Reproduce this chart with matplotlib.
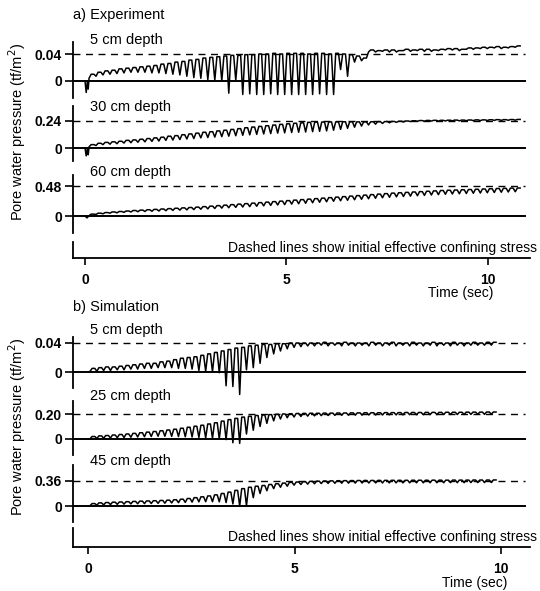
import matplotlib
matplotlib.use("Agg")
import matplotlib.pyplot as plt

plt.rcParams['font.family'] = ['Liberation Sans', 'DejaVu Sans']

# ---------------- data ----------------
# each trace: one peak and one trough per loading cycle, plus the start transient
exp_t_start, exp_t_end = 0.1, 10.85
sim_t_start, sim_t_end = 0.05, 9.93

exp5_lead_t = [0.0, 0.03, 0.06, 0.08]
exp5_lead_v = [0.0, -0.017, 0.0, -0.012]
exp5_peaks = [0.010, 0.013, 0.015, 0.016, 0.018, 0.019, 0.020, 0.021, 0.022, 0.023,
              0.025, 0.026, 0.028, 0.029, 0.031, 0.032, 0.034, 0.035, 0.036, 0.037,
              0.038, 0.038, 0.039, 0.039, 0.040, 0.040, 0.041, 0.040, 0.041, 0.041,
              0.041, 0.040, 0.041, 0.041, 0.040, 0.041, 0.040, 0.039, 0.037, 0.034,
              0.046, 0.045, 0.046, 0.046, 0.045, 0.047, 0.046, 0.047, 0.047, 0.046,
              0.047, 0.048, 0.048, 0.047, 0.049, 0.049, 0.050, 0.050, 0.051, 0.050, 0.051, 0.052]
exp5_troughs = [0.004, 0.007, 0.009, 0.010, 0.011, 0.012, 0.013, 0.013, 0.013, 0.012,
                0.012, 0.011, 0.010, 0.009, 0.007, 0.005, 0.004, 0.002, 0.001, 0.000,
                -0.018, 0.001, -0.020, -0.019, -0.020, -0.020, -0.019, -0.020, -0.020, -0.020,
                -0.020, -0.020, -0.020, -0.019, -0.020, -0.020, 0.017, 0.007, 0.028, 0.030,
                0.043, 0.043, 0.044, 0.043, 0.043, 0.045, 0.044, 0.045, 0.044, 0.044,
                0.045, 0.046, 0.046, 0.045, 0.047, 0.047, 0.048, 0.048, 0.049, 0.048, 0.049, 0.050]

exp30_lead_t = [0.0, 0.03, 0.06, 0.08]
exp30_lead_v = [0.0, -0.07, 0.0, -0.06]
exp30_peaks = [0.030, 0.042, 0.050, 0.055, 0.060, 0.068, 0.072, 0.078, 0.084, 0.090,
               0.096, 0.105, 0.110, 0.118, 0.125, 0.132, 0.140, 0.145, 0.152, 0.158,
               0.165, 0.172, 0.180, 0.186, 0.192, 0.198, 0.204, 0.210, 0.215, 0.220,
               0.224, 0.228, 0.230, 0.231, 0.232, 0.232, 0.233, 0.233, 0.232, 0.232,
               0.233, 0.234, 0.235, 0.236, 0.238, 0.240, 0.242, 0.244, 0.245, 0.246,
               0.246, 0.247, 0.248, 0.248, 0.249, 0.250, 0.250, 0.251, 0.252, 0.252, 0.253, 0.254]
exp30_troughs = [0.010, 0.022, 0.030, 0.034, 0.038, 0.044, 0.047, 0.051, 0.055, 0.059,
                 0.062, 0.068, 0.071, 0.075, 0.080, 0.084, 0.090, 0.093, 0.097, 0.101,
                 0.105, 0.109, 0.113, 0.117, 0.121, 0.125, 0.128, 0.132, 0.135, 0.138,
                 0.140, 0.142, 0.145, 0.148, 0.152, 0.158, 0.166, 0.175, 0.185, 0.195,
                 0.205, 0.212, 0.218, 0.224, 0.228, 0.232, 0.235, 0.237, 0.238, 0.239,
                 0.239, 0.240, 0.241, 0.241, 0.242, 0.243, 0.243, 0.244, 0.245, 0.245, 0.246, 0.247]

exp60_lead_t = [0.0, 0.05]
exp60_lead_v = [0.0, -0.03]
exp60_peaks = [0.030, 0.045, 0.055, 0.065, 0.072, 0.080, 0.088, 0.094, 0.100, 0.106,
               0.112, 0.118, 0.124, 0.130, 0.136, 0.142, 0.150, 0.158, 0.166, 0.174,
               0.182, 0.190, 0.198, 0.206, 0.214, 0.222, 0.230, 0.238, 0.246, 0.254,
               0.262, 0.270, 0.278, 0.286, 0.294, 0.302, 0.310, 0.318, 0.326, 0.334,
               0.342, 0.350, 0.358, 0.366, 0.372, 0.378, 0.384, 0.390, 0.396, 0.402,
               0.408, 0.412, 0.416, 0.420, 0.424, 0.428, 0.432, 0.436, 0.440, 0.443, 0.446, 0.448]
exp60_troughs = [0.005, 0.025, 0.035, 0.045, 0.050, 0.058, 0.064, 0.068, 0.072, 0.076,
                 0.080, 0.085, 0.090, 0.094, 0.098, 0.102, 0.108, 0.114, 0.120, 0.126,
                 0.132, 0.138, 0.144, 0.150, 0.156, 0.162, 0.170, 0.176, 0.182, 0.190,
                 0.196, 0.204, 0.212, 0.220, 0.228, 0.236, 0.244, 0.252, 0.260, 0.268,
                 0.276, 0.284, 0.292, 0.300, 0.306, 0.312, 0.318, 0.324, 0.330, 0.336,
                 0.342, 0.348, 0.352, 0.356, 0.360, 0.364, 0.368, 0.372, 0.376, 0.380, 0.384, 0.388]

sim5_lead_t = [0.0]
sim5_lead_v = [0.0]
sim5_peaks = [0.005, 0.006, 0.007, 0.007, 0.008, 0.009, 0.010, 0.011, 0.012, 0.012,
              0.014, 0.015, 0.017, 0.019, 0.020, 0.021, 0.023, 0.025, 0.027, 0.029,
              0.031, 0.033, 0.034, 0.036, 0.037, 0.038, 0.038, 0.039, 0.039, 0.040,
              0.040, 0.040, 0.040, 0.040, 0.041, 0.040, 0.040, 0.041, 0.040, 0.040,
              0.040, 0.041, 0.040, 0.040, 0.041, 0.040, 0.040, 0.041, 0.040, 0.040,
              0.041, 0.040, 0.040, 0.041, 0.040, 0.040, 0.041, 0.040, 0.041, 0.041]
sim5_troughs = [0.001, 0.001, 0.002, 0.002, 0.003, 0.003, 0.004, 0.004, 0.005, 0.005,
                0.006, 0.006, 0.006, 0.005, 0.005, 0.004, 0.002, 0.001, 0.000, -0.001,
                -0.019, -0.020, -0.031, 0.003, 0.006, 0.012, 0.020, 0.025, 0.029, 0.032,
                0.034, 0.035, 0.036, 0.036, 0.037, 0.036, 0.037, 0.036, 0.037, 0.036,
                0.037, 0.036, 0.037, 0.036, 0.037, 0.036, 0.037, 0.036, 0.037, 0.036,
                0.037, 0.036, 0.037, 0.036, 0.037, 0.036, 0.037, 0.037, 0.037, 0.037]

sim25_lead_t = [0.0]
sim25_lead_v = [0.0]
sim25_peaks = [0.020, 0.025, 0.028, 0.032, 0.036, 0.040, 0.045, 0.050, 0.055, 0.060,
               0.066, 0.072, 0.078, 0.086, 0.094, 0.102, 0.110, 0.120, 0.130, 0.143,
               0.155, 0.165, 0.175, 0.182, 0.188, 0.192, 0.195, 0.198, 0.200, 0.202,
               0.204, 0.205, 0.206, 0.206, 0.207, 0.207, 0.208, 0.208, 0.209, 0.209,
               0.210, 0.210, 0.210, 0.211, 0.211, 0.211, 0.212, 0.212, 0.212, 0.213,
               0.213, 0.213, 0.214, 0.214, 0.214, 0.215, 0.215, 0.215, 0.216, 0.216]
sim25_troughs = [0.002, 0.004, 0.006, 0.008, 0.010, 0.012, 0.014, 0.016, 0.018, 0.020,
                 0.022, 0.022, 0.021, 0.020, 0.018, 0.016, 0.012, 0.008, 0.004, 0.000,
                 -0.005, -0.030, -0.035, 0.040, 0.070, 0.100, 0.125, 0.145, 0.160, 0.170,
                 0.176, 0.180, 0.183, 0.185, 0.187, 0.188, 0.189, 0.190, 0.190, 0.191,
                 0.191, 0.192, 0.192, 0.192, 0.193, 0.193, 0.193, 0.194, 0.194, 0.194,
                 0.195, 0.195, 0.195, 0.196, 0.196, 0.196, 0.197, 0.197, 0.197, 0.198]

sim45_lead_t = [0.0]
sim45_lead_v = [0.0]
sim45_peaks = [0.035, 0.045, 0.050, 0.055, 0.058, 0.062, 0.066, 0.070, 0.073, 0.076,
               0.080, 0.084, 0.090, 0.098, 0.108, 0.120, 0.132, 0.145, 0.160, 0.180,
               0.200, 0.225, 0.250, 0.270, 0.285, 0.295, 0.310, 0.320, 0.330, 0.340,
               0.345, 0.350, 0.355, 0.358, 0.360, 0.362, 0.364, 0.365, 0.366, 0.367,
               0.368, 0.368, 0.369, 0.369, 0.370, 0.370, 0.370, 0.371, 0.371, 0.371,
               0.372, 0.372, 0.372, 0.373, 0.373, 0.373, 0.374, 0.374, 0.374, 0.375]
sim45_troughs = [0.005, 0.012, 0.016, 0.020, 0.024, 0.027, 0.030, 0.032, 0.034, 0.036,
                 0.038, 0.040, 0.044, 0.048, 0.052, 0.056, 0.060, 0.062, 0.062, 0.060,
                 0.050, 0.030, 0.000, 0.005, 0.120, 0.180, 0.220, 0.250, 0.270, 0.285,
                 0.300, 0.310, 0.315, 0.320, 0.323, 0.325, 0.327, 0.328, 0.329, 0.330,
                 0.331, 0.331, 0.332, 0.332, 0.333, 0.333, 0.333, 0.334, 0.334, 0.334,
                 0.335, 0.335, 0.335, 0.336, 0.336, 0.336, 0.337, 0.337, 0.337, 0.338]

exp_depths = ["5 cm depth", "30 cm depth", "60 cm depth"]
exp_stress = [0.04, 0.24, 0.48]
exp_ticklabels = ["0.04", "0.24", "0.48"]
sim_depths = ["5 cm depth", "25 cm depth", "45 cm depth"]
sim_stress = [0.04, 0.20, 0.36]
sim_ticklabels = ["0.04", "0.20", "0.36"]
time_ticks = [0, 5, 10]

# ---------------- layout (pixels of the 540 x 591 picture) ----------------
W, H = 540, 591
fig = plt.figure(figsize=(W / 100, H / 100), dpi=100)


def rect(x0, y0, x1, y1):
    return [x0 / W, 1 - y1 / H, (x1 - x0) / W, (y1 - y0) / H]


def ftext(x, y, s, **kw):
    fig.text(x / W, 1 - y / H, s, **kw)


def build(t0, t1, peaks, troughs, lead_t, lead_v):
    # sharp cusp at each trough, broad top at each peak
    period = (t1 - t0) / len(peaks)
    t, v = list(lead_t), list(lead_v)
    for i in range(len(peaks)):
        t += [t0 + i * period, t0 + (i + 0.3) * period, t0 + (i + 0.7) * period]
        v += [troughs[i], peaks[i], peaks[i]]
    return t, v


AX_L, AX_R = 73, 530


def trace_axes(y_top, y_bot, y_zero, y_tick, xlim, stress, ticklabel, t, v, label, label_y):
    ax = fig.add_axes(rect(AX_L, y_top, AX_R, y_bot))
    per_px = stress / (y_zero - y_tick)
    ax.set_ylim(-(y_bot - y_zero) * per_px, (y_zero - y_top) * per_px)
    ax.set_xlim(*xlim)
    for s in ["top", "right", "bottom"]:
        ax.spines[s].set_visible(False)
    ax.spines["left"].set_linewidth(1.3)
    ax.set_xticks([])
    ax.set_yticks([0, stress])
    ax.set_yticklabels(["0", ticklabel])
    ax.tick_params(axis="y", direction="out", length=6, width=1.2, pad=2, labelsize=10)
    for lab in ax.get_yticklabels():
        lab.set_fontweight("bold")
    ax.axhline(0, xmin=0, xmax=0.99, color="black", lw=1.4)
    ax.axhline(stress, xmin=0, xmax=0.99, color="black", lw=1.0, ls=(0, (5, 4)))
    ax.plot(t, v, color="black", lw=1.1, clip_on=False)
    ftext(90, label_y, label, fontsize=10.5, va="center", ha="left")
    return ax


def time_axes(y_top, y_bot, xlim, text_y, title_x, title_y):
    ax = fig.add_axes(rect(AX_L, y_top, AX_R, y_bot))
    ax.set_xlim(*xlim)
    ax.set_ylim(0, 1)
    for s in ["top", "right"]:
        ax.spines[s].set_visible(False)
    ax.spines["left"].set_linewidth(1.3)
    ax.spines["bottom"].set_linewidth(1.3)
    ax.set_yticks([])
    ax.set_xticks(time_ticks)
    ax.set_xticklabels([str(x) for x in time_ticks])
    ax.tick_params(axis="x", direction="out", length=5, width=1.2, pad=6, labelsize=10)
    for lab in ax.get_xticklabels():
        lab.set_fontweight("bold")
    ftext(537, text_y, "Dashed lines show initial effective confining stress",
          fontsize=10, ha="right", va="center")
    ftext(title_x, title_y, "Time (sec)", fontsize=10, ha="right", va="center")


# ---- a) Experiment ----
exp_xlim = ((AX_L - 85) / 40.3, (AX_R - 85) / 40.3)
ftext(73, 15, "a) Experiment", fontsize=10.5, va="center")
t, v = build(exp_t_start, exp_t_end, exp5_peaks, exp5_troughs, exp5_lead_t, exp5_lead_v)
trace_axes(42, 98, 81, 54, exp_xlim, exp_stress[0], exp_ticklabels[0], t, v, exp_depths[0], 40)
t, v = build(exp_t_start, exp_t_end, exp30_peaks, exp30_troughs, exp30_lead_t, exp30_lead_v)
trace_axes(106, 161, 148, 121, exp_xlim, exp_stress[1], exp_ticklabels[1], t, v, exp_depths[1], 107)
t, v = build(exp_t_start, exp_t_end, exp60_peaks, exp60_troughs, exp60_lead_t, exp60_lead_v)
trace_axes(175, 233, 216, 186, exp_xlim, exp_stress[2], exp_ticklabels[2], t, v, exp_depths[2], 172)
time_axes(242, 258, exp_xlim, 248, 493, 293)
ftext(17, 132, "Pore water pressure (tf/m$^2$)", fontsize=10.5, rotation=90,
      ha="center", va="center")

# ---- b) Simulation ----
sim_xlim = ((AX_L - 88) / 41.3, (AX_R - 88) / 41.3)
ftext(73, 307, "b) Simulation", fontsize=10.5, va="center")
t, v = build(sim_t_start, sim_t_end, sim5_peaks, sim5_troughs, sim5_lead_t, sim5_lead_v)
trace_axes(337, 388, 372, 343, sim_xlim, sim_stress[0], sim_ticklabels[0], t, v, sim_depths[0], 330)
t, v = build(sim_t_start, sim_t_end, sim25_peaks, sim25_troughs, sim25_lead_t, sim25_lead_v)
trace_axes(401, 455, 439, 414, sim_xlim, sim_stress[1], sim_ticklabels[1], t, v, sim_depths[1], 396)
t, v = build(sim_t_start, sim_t_end, sim45_peaks, sim45_troughs, sim45_lead_t, sim45_lead_v)
trace_axes(465, 522, 506, 481, sim_xlim, sim_stress[2], sim_ticklabels[2], t, v, sim_depths[2], 461)
time_axes(528, 547, sim_xlim, 537, 507, 583)
ftext(17, 427, "Pore water pressure (tf/m$^2$)", fontsize=10.5, rotation=90,
      ha="center", va="center")

fig.savefig("out.png", dpi=100)
